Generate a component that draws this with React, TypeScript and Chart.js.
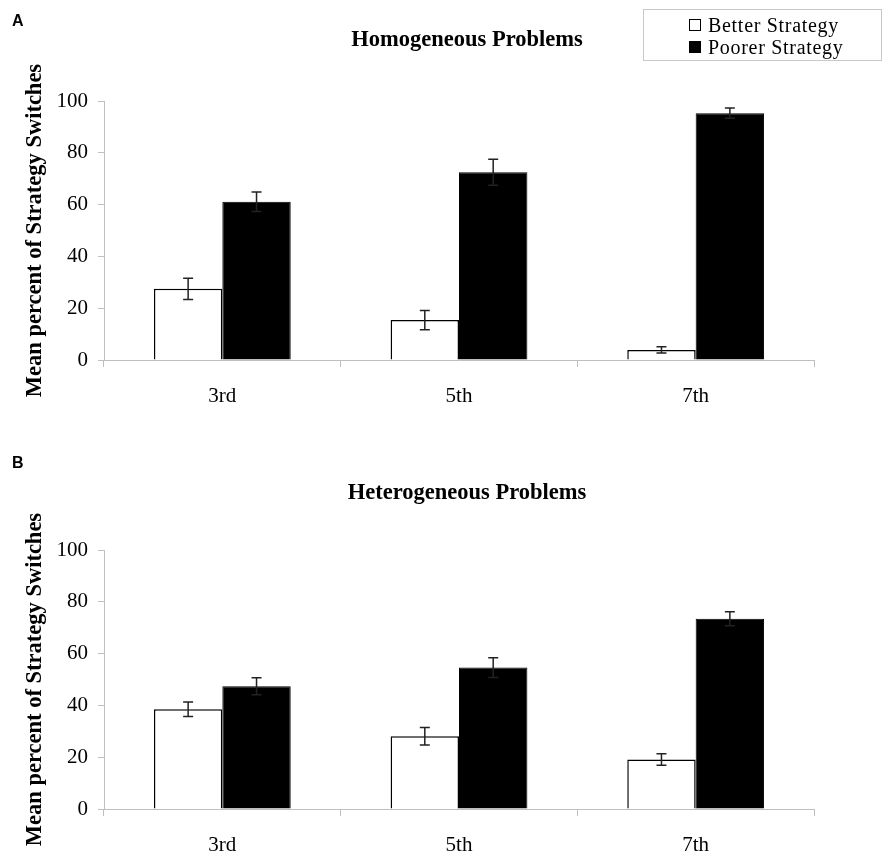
import { useEffect, useRef } from "react";
import { Chart, registerables } from "chart.js";

Chart.register(...registerables);

const grades = ["3rd", "5th", "7th"];
const seriesNames = ["Better Strategy", "Poorer Strategy"];

// panel A: homogeneous problems
const homBetter = [27.5, 15.4, 3.9];
const homBetterErr = [4.1, 3.7, 1.2];
const homPoorer = [61.1, 72.5, 95.3];
const homPoorerErr = [3.8, 5.0, 2.0];

// panel B: heterogeneous problems
const hetBetter = [38.5, 28.1, 19.1];
const hetBetterErr = [2.8, 3.4, 2.2];
const hetPoorer = [47.4, 54.6, 73.5];
const hetPoorerErr = [3.3, 3.8, 2.7];

const yTicks = [0, 20, 40, 60, 80, 100];

const serif = "'Liberation Serif', 'Times New Roman', serif";
const axisGray = "#bfbfbf";

const errorBars = {
  id: "errorBars",
  afterDatasetsDraw(chart: any) {
    const ctx = chart.ctx;
    const y = chart.scales.y;
    const errs: number[][] = chart.options.plugins.errorBars.errors;
    ctx.save();
    ctx.strokeStyle = "#222";
    ctx.lineWidth = 1.5;
    chart.data.datasets.forEach((ds: any, i: number) => {
      const meta = chart.getDatasetMeta(i);
      meta.data.forEach((bar: any, j: number) => {
        const v = ds.data[j];
        const e = errs[i][j];
        const top = y.getPixelForValue(v + e);
        const bot = y.getPixelForValue(v - e);
        ctx.beginPath();
        ctx.moveTo(bar.x, top);
        ctx.lineTo(bar.x, bot);
        ctx.moveTo(bar.x - 5, top);
        ctx.lineTo(bar.x + 5, top);
        ctx.moveTo(bar.x - 5, bot);
        ctx.lineTo(bar.x + 5, bot);
        ctx.stroke();
      });
    });
    ctx.restore();
  },
};

interface PanelProps {
  better: number[];
  betterErr: number[];
  poorer: number[];
  poorerErr: number[];
  height: number;
  plotTop: number;
  plotBottom: number;
}

const Panel: React.FC<PanelProps> = ({
  better,
  betterErr,
  poorer,
  poorerErr,
  height,
  plotTop,
  plotBottom,
}) => {
  const canvasRef = useRef<HTMLCanvasElement>(null);
  const chartRef = useRef<Chart | null>(null);

  useEffect(() => {
    if (!canvasRef.current) return;
    if (chartRef.current) chartRef.current.destroy();

    chartRef.current = new Chart(canvasRef.current, {
      type: "bar",
      data: {
        labels: grades,
        datasets: [
          {
            label: seriesNames[0],
            data: better,
            backgroundColor: "#ffffff",
            borderColor: "#000000",
            borderWidth: 1.5,
          },
          {
            label: seriesNames[1],
            data: poorer,
            backgroundColor: "#000000",
            borderColor: "#000000",
            borderWidth: 1,
          },
        ],
      },
      plugins: [errorBars],
      options: {
        animation: false,
        responsive: false,
        devicePixelRatio: 1,
        layout: { padding: { left: 18, right: 78, top: plotTop, bottom: 0 } },
        datasets: {
          bar: { categoryPercentage: 0.578, barPercentage: 1 },
        },
        plugins: {
          legend: { display: false },
          title: { display: false },
          tooltip: { enabled: false },
          // @ts-ignore
          errorBars: { errors: [betterErr, poorerErr] },
        },
        scales: {
          x: {
            afterFit: (s: any) => {
              s.height = height - plotBottom;
            },
            grid: {
              display: true,
              drawOnChartArea: false,
              color: axisGray,
              tickLength: 7,
              offset: true,
            },
            border: { display: true, color: axisGray, width: 1 },
            ticks: {
              color: "#000",
              padding: 17,
              font: { family: serif, size: 21 },
            },
          },
          y: {
            min: 0,
            max: 100,
            afterFit: (s: any) => {
              s.width = 86;
            },
            afterBuildTicks: (s: any) => {
              s.ticks = yTicks.map((v) => ({ value: v }));
            },
            grid: {
              display: true,
              drawOnChartArea: false,
              color: axisGray,
              tickLength: 6,
            },
            border: { display: true, color: axisGray, width: 1 },
            ticks: {
              color: "#000",
              padding: 10,
              font: { family: serif, size: 21 },
            },
            title: {
              display: true,
              text: "Mean percent of Strategy Switches",
              color: "#000",
              padding: { top: 4, bottom: 0 },
              font: { family: serif, size: 22.5, weight: "bold" },
            },
          },
        },
      },
    });

    return () => {
      if (chartRef.current) {
        chartRef.current.destroy();
        chartRef.current = null;
      }
    };
  }, [better, betterErr, poorer, poorerErr, height, plotTop, plotBottom]);

  return (
    <div style={{ position: "relative", width: 892, height }}>
      <canvas ref={canvasRef} width={892} height={height}></canvas>
    </div>
  );
};

const letterStyle: React.CSSProperties = {
  position: "absolute",
  left: 12,
  fontFamily: "'Liberation Sans', Arial, sans-serif",
  fontWeight: "bold",
  fontSize: 16,
  lineHeight: "18px",
};

const titleStyle: React.CSSProperties = {
  position: "absolute",
  left: 267,
  width: 400,
  textAlign: "center",
  fontFamily: serif,
  fontWeight: "bold",
  fontSize: 22.5,
  lineHeight: "27px",
};

const legendRow: React.CSSProperties = {
  position: "absolute",
  left: 45,
  height: 22,
  lineHeight: "22px",
  fontFamily: serif,
  fontSize: 20,
  letterSpacing: "0.7px",
  whiteSpace: "nowrap",
  display: "flex",
  alignItems: "center",
};

const App: React.FC = () => {
  return (
    <div
      style={{
        position: "absolute",
        left: 0,
        top: 0,
        width: 892,
        height: 866,
        background: "#fff",
        overflow: "hidden",
      }}
    >
      <div style={{ position: "absolute", left: 0, top: 0 }}>
        <Panel
          better={homBetter}
          betterErr={homBetterErr}
          poorer={homPoorer}
          poorerErr={homPoorerErr}
          height={440}
          plotTop={101}
          plotBottom={360}
        />
      </div>
      <div style={{ position: "absolute", left: 0, top: 440 }}>
        <Panel
          better={hetBetter}
          betterErr={hetBetterErr}
          poorer={hetPoorer}
          poorerErr={hetPoorerErr}
          height={426}
          plotTop={110}
          plotBottom={369}
        />
      </div>

      <div style={{ ...letterStyle, top: 12 }}>A</div>
      <div style={{ ...letterStyle, top: 454 }}>B</div>
      <div style={{ ...titleStyle, top: 25 }}>Homogeneous Problems</div>
      <div style={{ ...titleStyle, top: 478 }}>Heterogeneous Problems</div>

      <div
        style={{
          position: "absolute",
          left: 643,
          top: 9,
          width: 237,
          height: 50,
          border: "1px solid #c8c8c8",
          background: "#fff",
        }}
      >
        <div style={{ ...legendRow, top: 4 }}>
          <span
            style={{
              display: "inline-block",
              width: 10,
              height: 10,
              border: "1px solid #000",
              background: "#fff",
              marginRight: 7,
            }}
          ></span>
          {seriesNames[0]}
        </div>
        <div style={{ ...legendRow, top: 26 }}>
          <span
            style={{
              display: "inline-block",
              width: 12,
              height: 12,
              background: "#000",
              marginRight: 7,
            }}
          ></span>
          {seriesNames[1]}
        </div>
      </div>
    </div>
  );
};

export default App;
